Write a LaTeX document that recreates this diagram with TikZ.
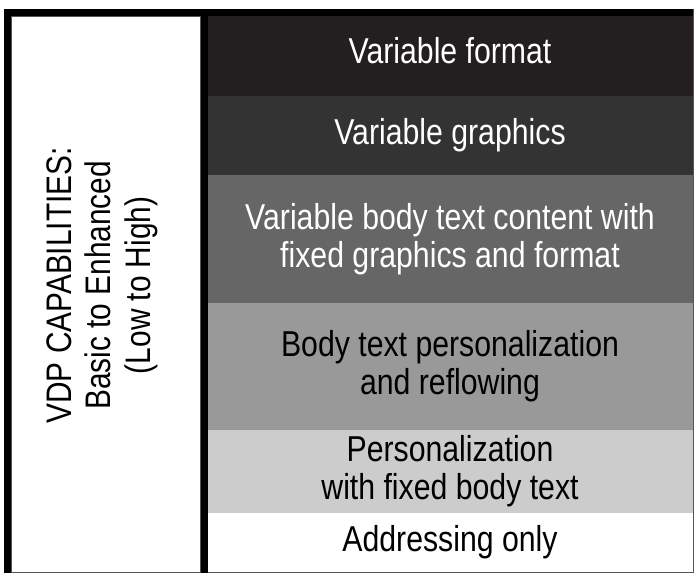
\documentclass[tikz,border=0pt]{standalone}
\usepackage{fontspec}
\setmainfont{Liberation Sans}[FakeStretch=0.84]
\usepackage{xcolor}
\usepackage{tikz}
\usetikzlibrary{
    positioning
}
\definecolor{bandA}{HTML}{231F20}
\definecolor{bandB}{HTML}{333333}
\definecolor{bandC}{HTML}{666666}
\definecolor{bandD}{HTML}{999999}
\definecolor{bandE}{HTML}{CCCCCC}
\definecolor{frameline}{HTML}{555555}
\tikzset{
    band/.style={
        rectangle, inner sep=0pt, outer sep=0pt,
        minimum width=486pt, align=center,
        font=\fontsize{36}{38}\selectfont
    },
    darkband/.style={
        band, text=white
    },
    lightband/.style={
        band, text=black
    },
    blackbar/.style={
        fill=black, draw=none
    }
}

\begin{document}
\begin{tikzpicture}[
        x=1pt, y=-1pt,
        node distance=0pt,
        leftpanel/.style={rectangle, draw=frameline, line width=0.8pt, fill=white, inner sep=0pt, minimum width=189pt, minimum height=556pt},
        axislabel/.style={rotate=90, align=center, font=\fontsize{35.5}{39.5}\selectfont}
    ]
    \useasboundingbox (0,0) rectangle (695,573);
    \fill[white] (0,0) rectangle (695,573);

    % LEVELS (high to low)
    \node[darkband, fill=bandA, minimum height=80pt, text depth=12pt, anchor=north west] (fmt) at (207,16) {Variable format};
    \node[darkband, fill=bandB, minimum height=79pt, below=of fmt] (gfx) {Variable graphics};
    \node[darkband, fill=bandC, minimum height=128pt, below=of gfx] (bodytxt) {Variable body text content with\\fixed graphics and format};
    \node[lightband, fill=bandD, minimum height=127pt, below=of bodytxt] (reflow) {Body text personalization\\and reflowing};
    \node[lightband, fill=bandE, minimum height=83pt, below=of reflow] (personal) {Personalization\\with fixed body text};
    \node[lightband, fill=white, minimum height=59pt, below=of personal] (addr) {Addressing only};

    % LEFT PANEL
    \node[leftpanel, anchor=north west] (panel) at (11,16) {};
    \node[axislabel, xshift=9pt, yshift=4pt] (caps) at (panel.center) {VDP CAPABILITIES:\\Basic to Enhanced\\(Low to High)};

    % FRAME
    \draw[frameline, line width=1pt] (4.5,9.5) rectangle (693.5,572.5);
    \fill[blackbar] (4,9) rectangle (693,16);
    \fill[blackbar] (4,9) rectangle (panel.south west);
    \fill[blackbar] (panel.north east) rectangle ([xshift=7pt]panel.south east);

\end{tikzpicture}
\end{document}
